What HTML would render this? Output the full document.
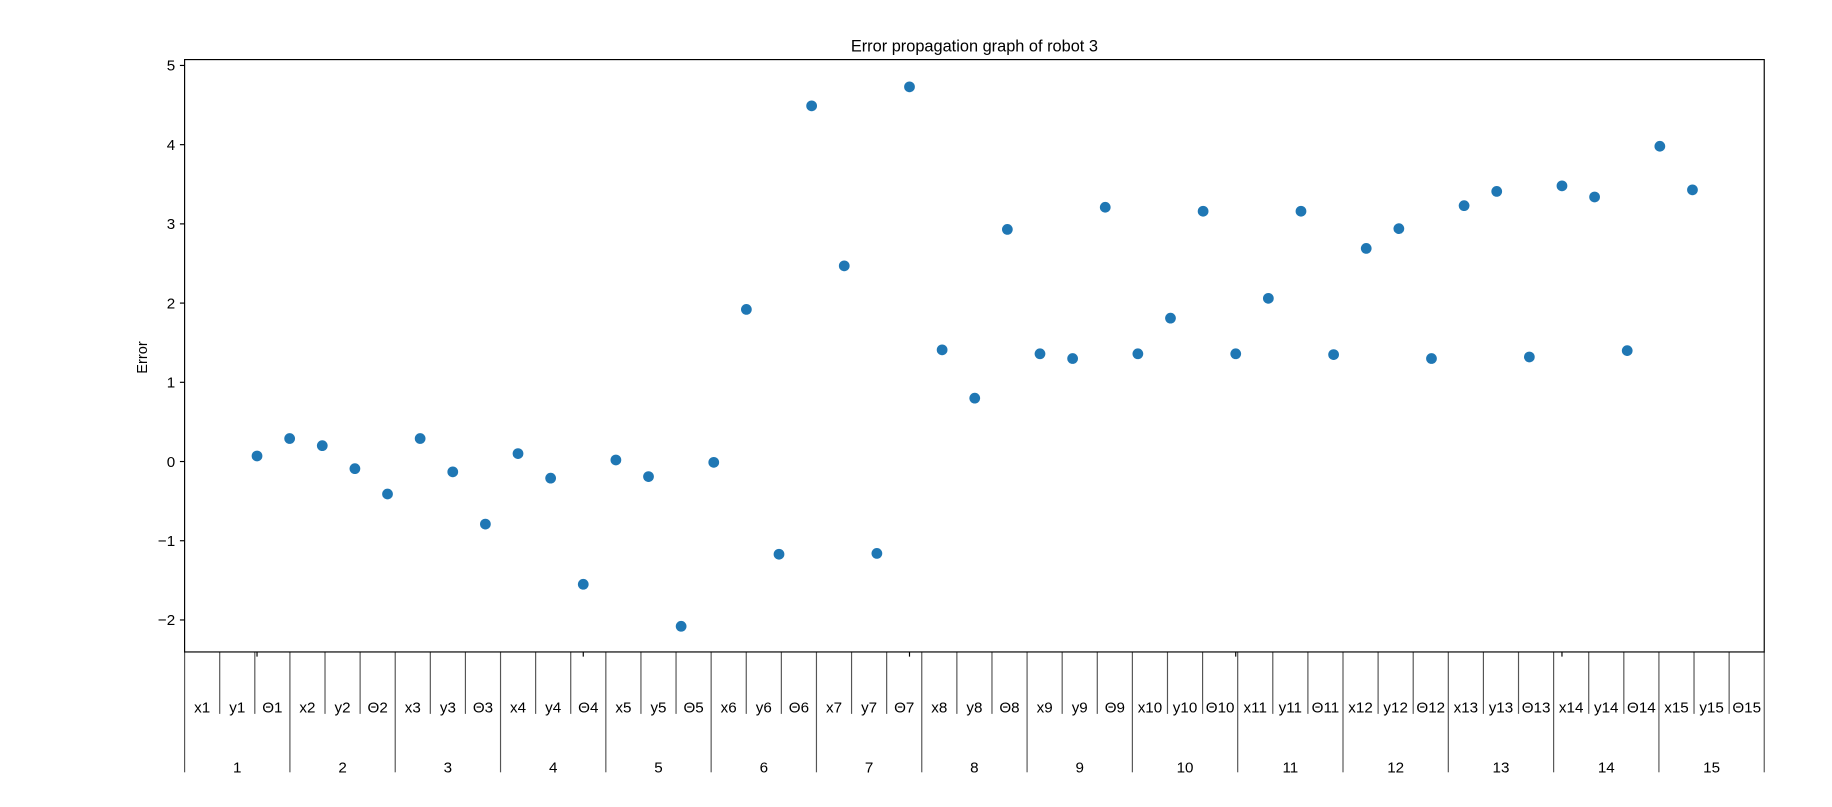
<!DOCTYPE html>
<html><head><meta charset="utf-8"><style>
html,body{margin:0;padding:0;background:#fff;}
svg{display:block;font-family:"Liberation Sans","DejaVu Sans",sans-serif;}
</style></head><body>
<svg id="chart" width="1832" height="807" viewBox="0 0 1568 690.7" preserveAspectRatio="none" xmlns="http://www.w3.org/2000/svg">
<text x="834" y="44" font-size="14" text-anchor="middle">Error propagation graph of robot 3</text>
<text x="0" y="0" font-size="12.5" text-anchor="middle" transform="translate(126,306) rotate(-90)">Error</text>
<g id="axes"></g>
<rect x="158" y="51" width="1352" height="507" fill="none" stroke="#000" stroke-width="1"/>
</svg>
<script>
const yValues=[0.07,0.29,0.20,-0.09,-0.41,0.29,-0.13,-0.79,0.10,-0.21,-1.55,0.02,-0.19,-2.08,-0.01,1.92,-1.17,4.49,2.47,-1.16,4.73,1.41,0.80,2.93,1.36,1.30,3.21,1.36,1.81,3.16,1.36,2.06,3.16,1.35,2.69,2.94,1.30,3.23,3.41,1.32,3.48,3.34,1.40,3.98,3.43];
const yTicks=[-2,-1,0,1,2,3,4,5];
const xTicks=[0,10,20,30,40];
const groupLabels=['1','2','3','4','5','6','7','8','9','10','11','12','13','14','15'];
const subLabels=['x','y','Θ'];

const NS='http://www.w3.org/2000/svg';
const L=158,R=1510,T=51,B=558;
const xMin=-2.22,xMax=46.2,yMin=-2.404,yMax=5.074;
const xs=v=>L+(v-xMin)/(xMax-xMin)*(R-L);
const ys=v=>B-(v-yMin)/(yMax-yMin)*(B-T);
const g=document.getElementById('axes');
function mk(tag,attrs,text){const e=document.createElementNS(NS,tag);for(const k in attrs)e.setAttribute(k,attrs[k]);if(text!==undefined)e.textContent=text;g.appendChild(e);return e;}

yTicks.forEach(t=>{
  const y=ys(t);
  const tk=mk('line',{x1:L-4,x2:L,y1:y,y2:y,stroke:'#000'});
  
  
  const lb=mk('text',{x:L-8,y:y+4.5,'font-size':13,'text-anchor':'end'},t<0?'\u2212'+Math.abs(t):String(t));
  
  
});
xTicks.forEach(t=>{
  const x=xs(t);
  const tk=mk('line',{x1:x,x2:x,y1:B,y2:B+4,stroke:'#000'});
  
  
});
const n=groupLabels.length*3, sw=(R-L)/n;
for(let i=0;i<=n;i++){
  const x=L+i*sw, major=i%3===0;
  const ln=mk('line',{x1:x,x2:x,y1:B,y2:major?661:611,stroke:'#555','stroke-width':1});
  
  
}
groupLabels.forEach((gl,gi)=>{
  subLabels.forEach((s,si)=>{
    const lb=mk('text',{x:L+(gi*3+si+0.5)*sw,y:610,'font-size':13,'text-anchor':'middle'},s+gl);
    
    
  });
  const gt=mk('text',{x:L+(gi*3+1.5)*sw,y:661,'font-size':13,'text-anchor':'middle'},gl);
  
  
});
yValues.forEach((v,i)=>{
  const c=mk('circle',{cx:xs(i),cy:ys(v),r:4.6,fill:'#1f77b4'});
  
  
});
</script>
</body></html>
